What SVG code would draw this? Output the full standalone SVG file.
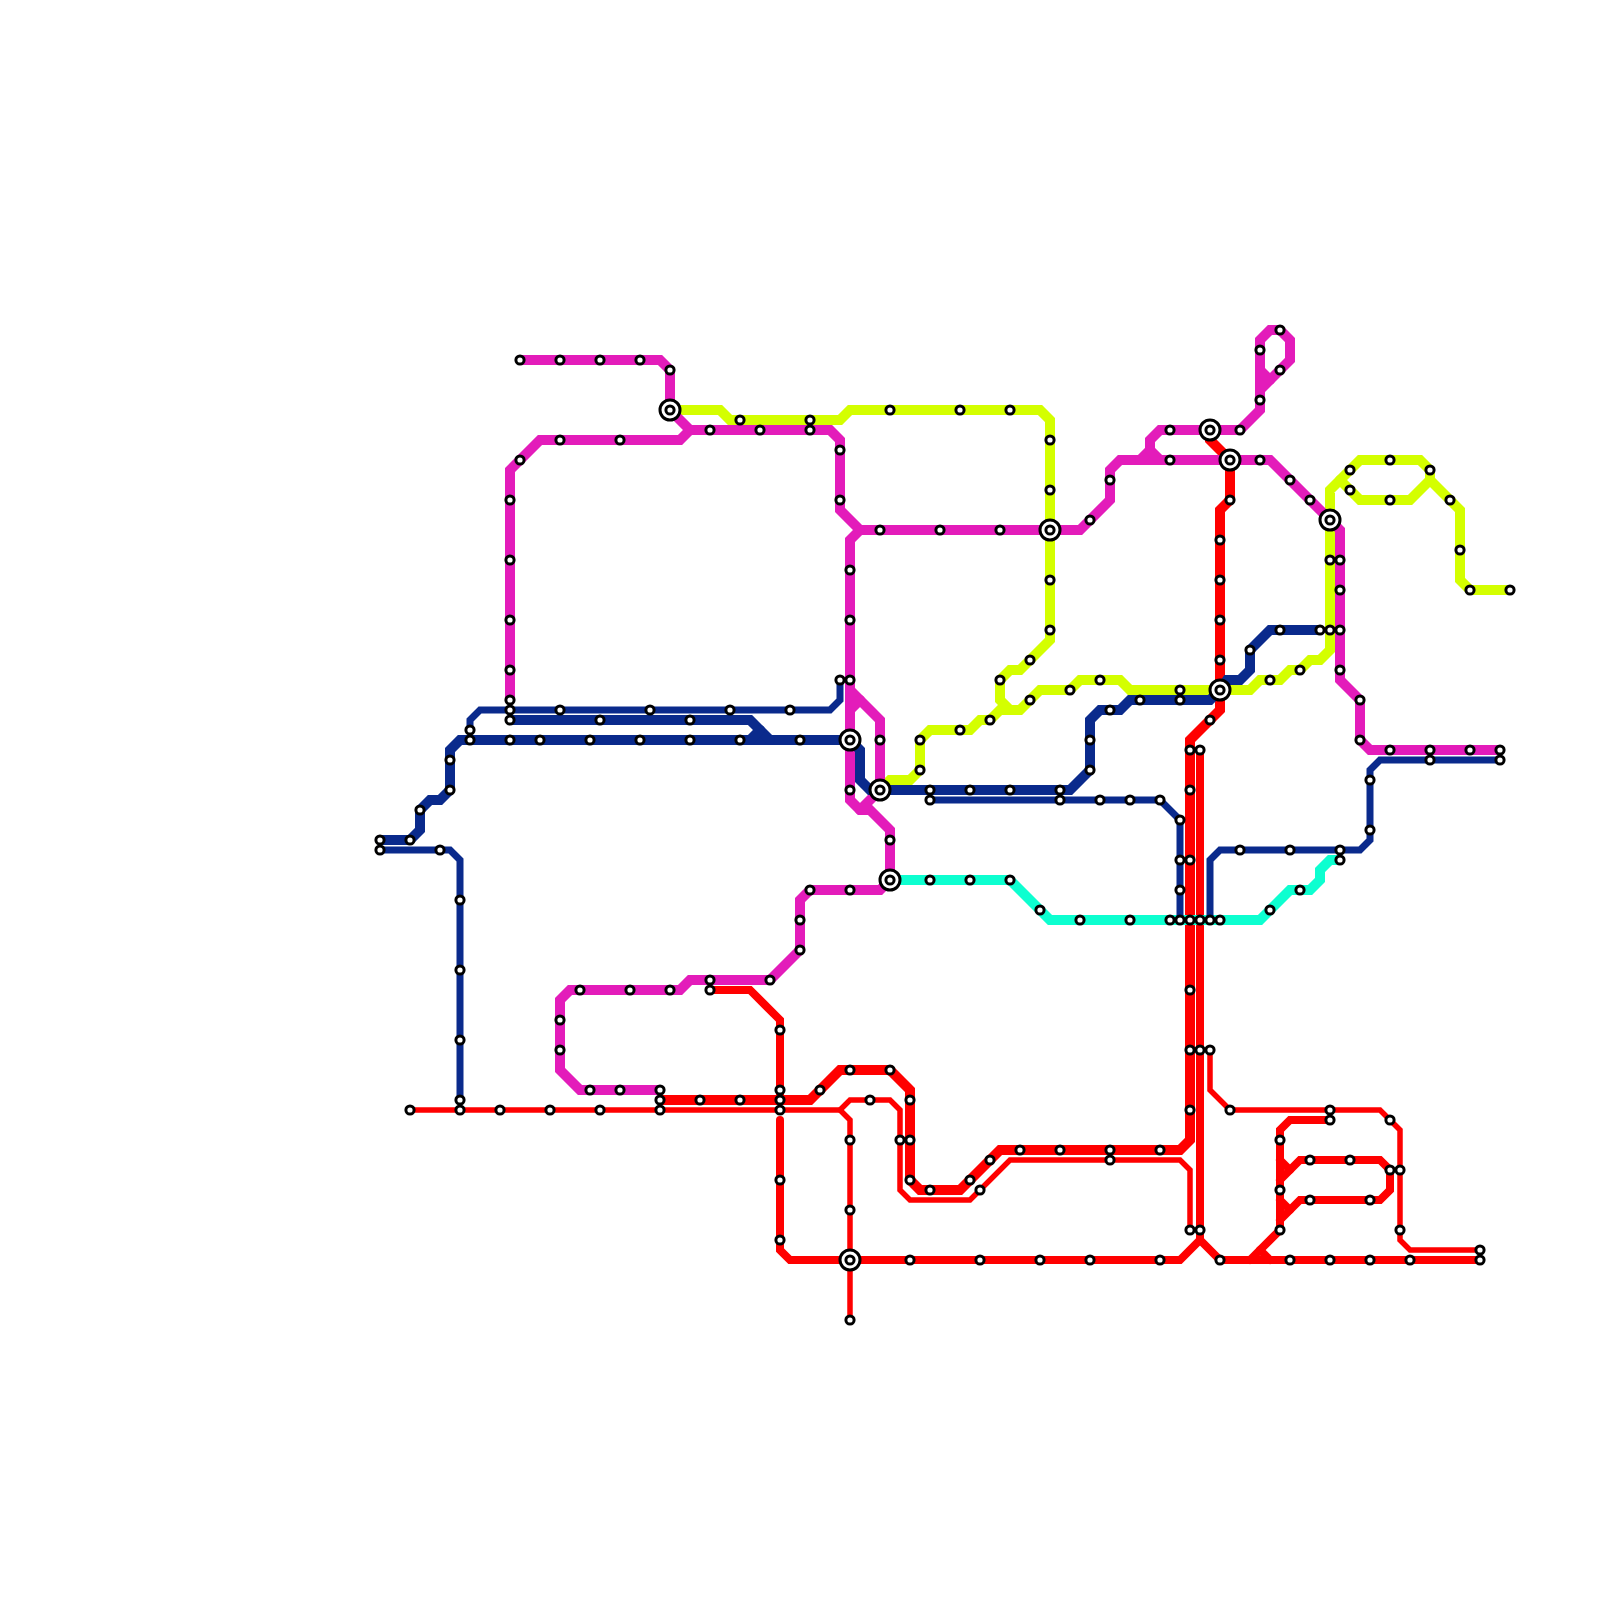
<svg xmlns="http://www.w3.org/2000/svg" width="1600" height="1600" viewBox="0 0 1600 1600">
<style>
polyline{fill:none;stroke-linejoin:miter;stroke-linecap:round}
.m{stroke:#e31cba;stroke-width:10}
.y{stroke:#d4ff00;stroke-width:10}
.t{stroke:#0dffd0;stroke-width:10}
.n{stroke:#0a2a8c;stroke-width:10}
.nt{stroke:#0a2a8c;stroke-width:7}
.r{stroke:#ff0000;stroke-width:10}
.rm{stroke:#ff0000;stroke-width:8}
.rs{stroke:#ff0000;stroke-width:5.5}
.s{fill:#fff;stroke:#000;stroke-width:3}
.h{fill:#fff;stroke:#000;stroke-width:3}
</style>
<rect width="1600" height="1600" fill="#fff"/>
<g id="connectors">
<polyline class="rs" points="410,1110 840,1110 850,1100 890,1100 900,1110 900,1190 910,1200 970,1200 1010,1160 1180,1160 1190,1170 1190,1230"/>
<polyline class="rs" points="840,1110 850,1120 850,1320"/>
<polyline class="rs" points="1210,1050 1210,1090 1230,1110 1380,1110 1400,1130 1400,1240 1410,1250 1480,1250"/>
<polyline class="r" points="660,1100 810,1100 840,1070 890,1070 910,1090 910,1180 920,1190 960,1190 1000,1150 1180,1150 1190,1140 1190,740 1220,710 1220,510 1230,500 1230,460 1210,440 1210,430"/>
<polyline class="rm" points="710,990 750,990 780,1020 780,1100"/>
<polyline class="rm" points="780,1120 780,1250 790,1260 1180,1260 1200,1240 1220,1260 1480,1260"/>
<polyline class="rm" points="1200,750 1200,1240"/>
<polyline class="rm" points="1330,1120 1290,1120 1280,1130 1280,1230 1250,1260"/>
<polyline class="rm" points="1280,1180 1300,1160 1380,1160 1390,1170 1390,1190 1380,1200 1300,1200 1280,1220"/>
<polyline class="rm" points="1280,1160 1290,1170"/>
<polyline class="rm" points="1280,1200 1290,1210"/>
<polyline class="rm" points="1260,1250 1270,1260"/>
<polyline class="t" points="890,880 1010,880 1050,920 1260,920 1290,890 1310,890 1320,880 1320,870 1330,860 1340,860"/>
<polyline class="y" points="670,410 720,410 730,420 840,420 850,410 1040,410 1050,420 1050,640 1020,670 1010,670 1000,680 1000,700 1010,710"/>
<polyline class="y" points="880,790 890,780 910,780 920,770 920,740 930,730 970,730 980,720 990,720 1000,710 1020,710 1040,690 1070,690 1080,680 1120,680 1130,690 1250,690 1260,680 1280,680 1290,670 1300,670 1310,660 1320,660 1330,650 1330,490 1360,460 1420,460 1430,470 1430,480 1460,510 1460,580 1470,590 1510,590"/>
<polyline class="y" points="1340,480 1360,500 1410,500 1430,480"/>
<polyline class="m" points="520,360 660,360 670,370 670,410 690,430 830,430 840,440 840,510 860,530 1080,530 1110,500 1110,470 1120,460 1270,460 1330,520 1340,530 1340,680 1360,700 1360,740 1370,750 1500,750"/>
<polyline class="m" points="690,430 680,440 540,440 510,470 510,700"/>
<polyline class="m" points="860,530 850,540 850,800 860,810 870,810 890,830 890,880 880,890 810,890 800,900 800,950 770,980 690,980 680,990 570,990 560,1000 560,1070 580,1090 660,1090"/>
<polyline class="m" points="850,690 880,720 880,790 860,810"/>
<polyline class="m" points="850,710 860,700"/>
<polyline class="m" points="1140,460 1150,450 1150,440 1160,430 1240,430 1260,410 1260,340 1270,330 1280,330 1290,340 1290,360 1260,390"/>
<polyline class="m" points="1150,450 1160,460"/>
<polyline class="m" points="1260,370 1270,380"/>
<polyline class="n" points="380,840 410,840 420,830 420,810 430,800 440,800 450,790 450,750 460,740 850,740 860,750 860,780 870,790 1070,790 1090,770 1090,720 1100,710 1120,710 1130,700 1210,700 1220,690 1227,680 1240,680 1250,670 1250,650 1270,630 1320,630"/>
<polyline class="n" points="510,720 750,720 770,740"/>
<polyline class="n" points="750,740 760,730"/>
<polyline class="nt" points="470,730 470,720 480,710 830,710 840,700 840,680"/>
<polyline class="nt" points="380,850 450,850 460,860 460,1100"/>
<polyline class="nt" points="930,800 1160,800 1180,820 1180,920"/>
<polyline class="nt" points="1210,920 1210,860 1220,850 1360,850 1370,840 1370,770 1380,760 1500,760"/>
</g>
<g id="hubs">
<g id="hub-670-410"><circle class="h" cx="670" cy="410" r="10"/><circle class="s" cx="670" cy="410" r="4.1"/></g>
<g id="hub-850-740"><circle class="h" cx="850" cy="740" r="10"/><circle class="s" cx="850" cy="740" r="4.1"/></g>
<g id="hub-880-790"><circle class="h" cx="880" cy="790" r="10"/><circle class="s" cx="880" cy="790" r="4.1"/></g>
<g id="hub-890-880"><circle class="h" cx="890" cy="880" r="10"/><circle class="s" cx="890" cy="880" r="4.1"/></g>
<g id="hub-850-1260"><circle class="h" cx="850" cy="1260" r="10"/><circle class="s" cx="850" cy="1260" r="4.1"/></g>
<g id="hub-1050-530"><circle class="h" cx="1050" cy="530" r="10"/><circle class="s" cx="1050" cy="530" r="4.1"/></g>
<g id="hub-1210-430"><circle class="h" cx="1210" cy="430" r="10"/><circle class="s" cx="1210" cy="430" r="4.1"/></g>
<g id="hub-1230-460"><circle class="h" cx="1230" cy="460" r="10"/><circle class="s" cx="1230" cy="460" r="4.1"/></g>
<g id="hub-1220-690"><circle class="h" cx="1220" cy="690" r="10"/><circle class="s" cx="1220" cy="690" r="4.1"/></g>
<g id="hub-1330-520"><circle class="h" cx="1330" cy="520" r="10"/><circle class="s" cx="1330" cy="520" r="4.1"/></g>
</g>
<g id="stations">
<g id="s1"><circle class="s" cx="520" cy="360" r="4.1"/></g>
<g id="s2"><circle class="s" cx="560" cy="360" r="4.1"/></g>
<g id="s3"><circle class="s" cx="600" cy="360" r="4.1"/></g>
<g id="s4"><circle class="s" cx="640" cy="360" r="4.1"/></g>
<g id="s5"><circle class="s" cx="670" cy="370" r="4.1"/></g>
<g id="s6"><circle class="s" cx="740" cy="420" r="4.1"/></g>
<g id="s7"><circle class="s" cx="810" cy="420" r="4.1"/></g>
<g id="s8"><circle class="s" cx="810" cy="430" r="4.1"/></g>
<g id="s9"><circle class="s" cx="710" cy="430" r="4.1"/></g>
<g id="s10"><circle class="s" cx="760" cy="430" r="4.1"/></g>
<g id="s11"><circle class="s" cx="560" cy="440" r="4.1"/></g>
<g id="s12"><circle class="s" cx="620" cy="440" r="4.1"/></g>
<g id="s13"><circle class="s" cx="520" cy="460" r="4.1"/></g>
<g id="s14"><circle class="s" cx="840" cy="450" r="4.1"/></g>
<g id="s15"><circle class="s" cx="840" cy="500" r="4.1"/></g>
<g id="s16"><circle class="s" cx="510" cy="500" r="4.1"/></g>
<g id="s17"><circle class="s" cx="510" cy="560" r="4.1"/></g>
<g id="s18"><circle class="s" cx="510" cy="620" r="4.1"/></g>
<g id="s19"><circle class="s" cx="510" cy="670" r="4.1"/></g>
<g id="s20"><circle class="s" cx="510" cy="700" r="4.1"/></g>
<g id="s21"><circle class="s" cx="510" cy="710" r="4.1"/></g>
<g id="s22"><circle class="s" cx="510" cy="720" r="4.1"/></g>
<g id="s23"><circle class="s" cx="510" cy="740" r="4.1"/></g>
<g id="s24"><circle class="s" cx="560" cy="710" r="4.1"/></g>
<g id="s25"><circle class="s" cx="650" cy="710" r="4.1"/></g>
<g id="s26"><circle class="s" cx="730" cy="710" r="4.1"/></g>
<g id="s27"><circle class="s" cx="790" cy="710" r="4.1"/></g>
<g id="s28"><circle class="s" cx="600" cy="720" r="4.1"/></g>
<g id="s29"><circle class="s" cx="690" cy="720" r="4.1"/></g>
<g id="s30"><circle class="s" cx="470" cy="730" r="4.1"/></g>
<g id="s31"><circle class="s" cx="470" cy="740" r="4.1"/></g>
<g id="s32"><circle class="s" cx="540" cy="740" r="4.1"/></g>
<g id="s33"><circle class="s" cx="590" cy="740" r="4.1"/></g>
<g id="s34"><circle class="s" cx="640" cy="740" r="4.1"/></g>
<g id="s35"><circle class="s" cx="690" cy="740" r="4.1"/></g>
<g id="s36"><circle class="s" cx="740" cy="740" r="4.1"/></g>
<g id="s37"><circle class="s" cx="800" cy="740" r="4.1"/></g>
<g id="s38"><circle class="s" cx="840" cy="680" r="4.1"/></g>
<g id="s39"><circle class="s" cx="850" cy="680" r="4.1"/></g>
<g id="s40"><circle class="s" cx="850" cy="570" r="4.1"/></g>
<g id="s41"><circle class="s" cx="850" cy="620" r="4.1"/></g>
<g id="s42"><circle class="s" cx="850" cy="790" r="4.1"/></g>
<g id="s43"><circle class="s" cx="450" cy="760" r="4.1"/></g>
<g id="s44"><circle class="s" cx="450" cy="790" r="4.1"/></g>
<g id="s45"><circle class="s" cx="420" cy="810" r="4.1"/></g>
<g id="s46"><circle class="s" cx="880" cy="530" r="4.1"/></g>
<g id="s47"><circle class="s" cx="880" cy="740" r="4.1"/></g>
<g id="s48"><circle class="s" cx="380" cy="840" r="4.1"/></g>
<g id="s49"><circle class="s" cx="410" cy="840" r="4.1"/></g>
<g id="s50"><circle class="s" cx="380" cy="850" r="4.1"/></g>
<g id="s51"><circle class="s" cx="440" cy="850" r="4.1"/></g>
<g id="s52"><circle class="s" cx="460" cy="900" r="4.1"/></g>
<g id="s53"><circle class="s" cx="460" cy="970" r="4.1"/></g>
<g id="s54"><circle class="s" cx="460" cy="1040" r="4.1"/></g>
<g id="s55"><circle class="s" cx="460" cy="1100" r="4.1"/></g>
<g id="s56"><circle class="s" cx="460" cy="1110" r="4.1"/></g>
<g id="s57"><circle class="s" cx="410" cy="1110" r="4.1"/></g>
<g id="s58"><circle class="s" cx="500" cy="1110" r="4.1"/></g>
<g id="s59"><circle class="s" cx="550" cy="1110" r="4.1"/></g>
<g id="s60"><circle class="s" cx="600" cy="1110" r="4.1"/></g>
<g id="s61"><circle class="s" cx="660" cy="1090" r="4.1"/></g>
<g id="s62"><circle class="s" cx="660" cy="1100" r="4.1"/></g>
<g id="s63"><circle class="s" cx="660" cy="1110" r="4.1"/></g>
<g id="s64"><circle class="s" cx="700" cy="1100" r="4.1"/></g>
<g id="s65"><circle class="s" cx="740" cy="1100" r="4.1"/></g>
<g id="s66"><circle class="s" cx="780" cy="1090" r="4.1"/></g>
<g id="s67"><circle class="s" cx="780" cy="1100" r="4.1"/></g>
<g id="s68"><circle class="s" cx="780" cy="1110" r="4.1"/></g>
<g id="s69"><circle class="s" cx="820" cy="1090" r="4.1"/></g>
<g id="s70"><circle class="s" cx="780" cy="1030" r="4.1"/></g>
<g id="s71"><circle class="s" cx="560" cy="1020" r="4.1"/></g>
<g id="s72"><circle class="s" cx="560" cy="1050" r="4.1"/></g>
<g id="s73"><circle class="s" cx="590" cy="1090" r="4.1"/></g>
<g id="s74"><circle class="s" cx="620" cy="1090" r="4.1"/></g>
<g id="s75"><circle class="s" cx="580" cy="990" r="4.1"/></g>
<g id="s76"><circle class="s" cx="630" cy="990" r="4.1"/></g>
<g id="s77"><circle class="s" cx="670" cy="990" r="4.1"/></g>
<g id="s78"><circle class="s" cx="710" cy="980" r="4.1"/></g>
<g id="s79"><circle class="s" cx="710" cy="990" r="4.1"/></g>
<g id="s80"><circle class="s" cx="770" cy="980" r="4.1"/></g>
<g id="s81"><circle class="s" cx="800" cy="950" r="4.1"/></g>
<g id="s82"><circle class="s" cx="800" cy="920" r="4.1"/></g>
<g id="s83"><circle class="s" cx="810" cy="890" r="4.1"/></g>
<g id="s84"><circle class="s" cx="850" cy="890" r="4.1"/></g>
<g id="s85"><circle class="s" cx="890" cy="840" r="4.1"/></g>
<g id="s86"><circle class="s" cx="850" cy="1070" r="4.1"/></g>
<g id="s87"><circle class="s" cx="890" cy="1070" r="4.1"/></g>
<g id="s88"><circle class="s" cx="870" cy="1100" r="4.1"/></g>
<g id="s89"><circle class="s" cx="910" cy="1100" r="4.1"/></g>
<g id="s90"><circle class="s" cx="900" cy="1140" r="4.1"/></g>
<g id="s91"><circle class="s" cx="910" cy="1140" r="4.1"/></g>
<g id="s92"><circle class="s" cx="850" cy="1140" r="4.1"/></g>
<g id="s93"><circle class="s" cx="780" cy="1180" r="4.1"/></g>
<g id="s94"><circle class="s" cx="910" cy="1180" r="4.1"/></g>
<g id="s95"><circle class="s" cx="930" cy="1190" r="4.1"/></g>
<g id="s96"><circle class="s" cx="970" cy="1180" r="4.1"/></g>
<g id="s97"><circle class="s" cx="990" cy="1160" r="4.1"/></g>
<g id="s98"><circle class="s" cx="980" cy="1190" r="4.1"/></g>
<g id="s99"><circle class="s" cx="1020" cy="1150" r="4.1"/></g>
<g id="s100"><circle class="s" cx="1060" cy="1150" r="4.1"/></g>
<g id="s101"><circle class="s" cx="1110" cy="1150" r="4.1"/></g>
<g id="s102"><circle class="s" cx="1110" cy="1160" r="4.1"/></g>
<g id="s103"><circle class="s" cx="1160" cy="1150" r="4.1"/></g>
<g id="s104"><circle class="s" cx="850" cy="1210" r="4.1"/></g>
<g id="s105"><circle class="s" cx="780" cy="1240" r="4.1"/></g>
<g id="s106"><circle class="s" cx="910" cy="1260" r="4.1"/></g>
<g id="s107"><circle class="s" cx="980" cy="1260" r="4.1"/></g>
<g id="s108"><circle class="s" cx="1040" cy="1260" r="4.1"/></g>
<g id="s109"><circle class="s" cx="1090" cy="1260" r="4.1"/></g>
<g id="s110"><circle class="s" cx="1160" cy="1260" r="4.1"/></g>
<g id="s111"><circle class="s" cx="850" cy="1320" r="4.1"/></g>
<g id="s112"><circle class="s" cx="890" cy="410" r="4.1"/></g>
<g id="s113"><circle class="s" cx="960" cy="410" r="4.1"/></g>
<g id="s114"><circle class="s" cx="1010" cy="410" r="4.1"/></g>
<g id="s115"><circle class="s" cx="1050" cy="440" r="4.1"/></g>
<g id="s116"><circle class="s" cx="1050" cy="490" r="4.1"/></g>
<g id="s117"><circle class="s" cx="1050" cy="580" r="4.1"/></g>
<g id="s118"><circle class="s" cx="1050" cy="630" r="4.1"/></g>
<g id="s119"><circle class="s" cx="1030" cy="660" r="4.1"/></g>
<g id="s120"><circle class="s" cx="1000" cy="680" r="4.1"/></g>
<g id="s121"><circle class="s" cx="1070" cy="690" r="4.1"/></g>
<g id="s122"><circle class="s" cx="1100" cy="680" r="4.1"/></g>
<g id="s123"><circle class="s" cx="1030" cy="700" r="4.1"/></g>
<g id="s124"><circle class="s" cx="990" cy="720" r="4.1"/></g>
<g id="s125"><circle class="s" cx="960" cy="730" r="4.1"/></g>
<g id="s126"><circle class="s" cx="920" cy="740" r="4.1"/></g>
<g id="s127"><circle class="s" cx="920" cy="770" r="4.1"/></g>
<g id="s128"><circle class="s" cx="940" cy="530" r="4.1"/></g>
<g id="s129"><circle class="s" cx="1000" cy="530" r="4.1"/></g>
<g id="s130"><circle class="s" cx="1090" cy="520" r="4.1"/></g>
<g id="s131"><circle class="s" cx="1110" cy="480" r="4.1"/></g>
<g id="s132"><circle class="s" cx="1170" cy="430" r="4.1"/></g>
<g id="s133"><circle class="s" cx="1170" cy="460" r="4.1"/></g>
<g id="s134"><circle class="s" cx="1230" cy="500" r="4.1"/></g>
<g id="s135"><circle class="s" cx="1220" cy="540" r="4.1"/></g>
<g id="s136"><circle class="s" cx="1220" cy="580" r="4.1"/></g>
<g id="s137"><circle class="s" cx="1220" cy="620" r="4.1"/></g>
<g id="s138"><circle class="s" cx="1220" cy="660" r="4.1"/></g>
<g id="s139"><circle class="s" cx="1180" cy="690" r="4.1"/></g>
<g id="s140"><circle class="s" cx="1180" cy="700" r="4.1"/></g>
<g id="s141"><circle class="s" cx="1140" cy="700" r="4.1"/></g>
<g id="s142"><circle class="s" cx="1110" cy="710" r="4.1"/></g>
<g id="s143"><circle class="s" cx="1090" cy="740" r="4.1"/></g>
<g id="s144"><circle class="s" cx="1090" cy="770" r="4.1"/></g>
<g id="s145"><circle class="s" cx="1060" cy="790" r="4.1"/></g>
<g id="s146"><circle class="s" cx="1060" cy="800" r="4.1"/></g>
<g id="s147"><circle class="s" cx="1010" cy="790" r="4.1"/></g>
<g id="s148"><circle class="s" cx="970" cy="790" r="4.1"/></g>
<g id="s149"><circle class="s" cx="930" cy="790" r="4.1"/></g>
<g id="s150"><circle class="s" cx="930" cy="800" r="4.1"/></g>
<g id="s151"><circle class="s" cx="1100" cy="800" r="4.1"/></g>
<g id="s152"><circle class="s" cx="1130" cy="800" r="4.1"/></g>
<g id="s153"><circle class="s" cx="1160" cy="800" r="4.1"/></g>
<g id="s154"><circle class="s" cx="1180" cy="820" r="4.1"/></g>
<g id="s155"><circle class="s" cx="1210" cy="720" r="4.1"/></g>
<g id="s156"><circle class="s" cx="1190" cy="750" r="4.1"/></g>
<g id="s157"><circle class="s" cx="1200" cy="750" r="4.1"/></g>
<g id="s158"><circle class="s" cx="1190" cy="790" r="4.1"/></g>
<g id="s159"><circle class="s" cx="1240" cy="430" r="4.1"/></g>
<g id="s160"><circle class="s" cx="1260" cy="400" r="4.1"/></g>
<g id="s161"><circle class="s" cx="1260" cy="350" r="4.1"/></g>
<g id="s162"><circle class="s" cx="1280" cy="330" r="4.1"/></g>
<g id="s163"><circle class="s" cx="1280" cy="370" r="4.1"/></g>
<g id="s164"><circle class="s" cx="1260" cy="460" r="4.1"/></g>
<g id="s165"><circle class="s" cx="1290" cy="480" r="4.1"/></g>
<g id="s166"><circle class="s" cx="1310" cy="500" r="4.1"/></g>
<g id="s167"><circle class="s" cx="1330" cy="560" r="4.1"/></g>
<g id="s168"><circle class="s" cx="1340" cy="560" r="4.1"/></g>
<g id="s169"><circle class="s" cx="1340" cy="590" r="4.1"/></g>
<g id="s170"><circle class="s" cx="1320" cy="630" r="4.1"/></g>
<g id="s171"><circle class="s" cx="1330" cy="630" r="4.1"/></g>
<g id="s172"><circle class="s" cx="1340" cy="630" r="4.1"/></g>
<g id="s173"><circle class="s" cx="1340" cy="670" r="4.1"/></g>
<g id="s174"><circle class="s" cx="1360" cy="700" r="4.1"/></g>
<g id="s175"><circle class="s" cx="1280" cy="630" r="4.1"/></g>
<g id="s176"><circle class="s" cx="1250" cy="650" r="4.1"/></g>
<g id="s177"><circle class="s" cx="1300" cy="670" r="4.1"/></g>
<g id="s178"><circle class="s" cx="1270" cy="680" r="4.1"/></g>
<g id="s179"><circle class="s" cx="1350" cy="470" r="4.1"/></g>
<g id="s180"><circle class="s" cx="1350" cy="490" r="4.1"/></g>
<g id="s181"><circle class="s" cx="1390" cy="460" r="4.1"/></g>
<g id="s182"><circle class="s" cx="1390" cy="500" r="4.1"/></g>
<g id="s183"><circle class="s" cx="1430" cy="470" r="4.1"/></g>
<g id="s184"><circle class="s" cx="1450" cy="500" r="4.1"/></g>
<g id="s185"><circle class="s" cx="1460" cy="550" r="4.1"/></g>
<g id="s186"><circle class="s" cx="1470" cy="590" r="4.1"/></g>
<g id="s187"><circle class="s" cx="1510" cy="590" r="4.1"/></g>
<g id="s188"><circle class="s" cx="1180" cy="860" r="4.1"/></g>
<g id="s189"><circle class="s" cx="1190" cy="860" r="4.1"/></g>
<g id="s190"><circle class="s" cx="1180" cy="890" r="4.1"/></g>
<g id="s191"><circle class="s" cx="1170" cy="920" r="4.1"/></g>
<g id="s192"><circle class="s" cx="1180" cy="920" r="4.1"/></g>
<g id="s193"><circle class="s" cx="1190" cy="920" r="4.1"/></g>
<g id="s194"><circle class="s" cx="1200" cy="920" r="4.1"/></g>
<g id="s195"><circle class="s" cx="1210" cy="920" r="4.1"/></g>
<g id="s196"><circle class="s" cx="1220" cy="920" r="4.1"/></g>
<g id="s197"><circle class="s" cx="1190" cy="990" r="4.1"/></g>
<g id="s198"><circle class="s" cx="1190" cy="1050" r="4.1"/></g>
<g id="s199"><circle class="s" cx="1200" cy="1050" r="4.1"/></g>
<g id="s200"><circle class="s" cx="1210" cy="1050" r="4.1"/></g>
<g id="s201"><circle class="s" cx="1240" cy="850" r="4.1"/></g>
<g id="s202"><circle class="s" cx="1290" cy="850" r="4.1"/></g>
<g id="s203"><circle class="s" cx="1340" cy="850" r="4.1"/></g>
<g id="s204"><circle class="s" cx="1340" cy="860" r="4.1"/></g>
<g id="s205"><circle class="s" cx="1300" cy="890" r="4.1"/></g>
<g id="s206"><circle class="s" cx="1270" cy="910" r="4.1"/></g>
<g id="s207"><circle class="s" cx="1370" cy="780" r="4.1"/></g>
<g id="s208"><circle class="s" cx="1370" cy="830" r="4.1"/></g>
<g id="s209"><circle class="s" cx="1360" cy="740" r="4.1"/></g>
<g id="s210"><circle class="s" cx="1390" cy="750" r="4.1"/></g>
<g id="s211"><circle class="s" cx="1430" cy="750" r="4.1"/></g>
<g id="s212"><circle class="s" cx="1430" cy="760" r="4.1"/></g>
<g id="s213"><circle class="s" cx="1470" cy="750" r="4.1"/></g>
<g id="s214"><circle class="s" cx="1500" cy="750" r="4.1"/></g>
<g id="s215"><circle class="s" cx="1500" cy="760" r="4.1"/></g>
<g id="s216"><circle class="s" cx="1230" cy="1110" r="4.1"/></g>
<g id="s217"><circle class="s" cx="1330" cy="1110" r="4.1"/></g>
<g id="s218"><circle class="s" cx="1330" cy="1120" r="4.1"/></g>
<g id="s219"><circle class="s" cx="1390" cy="1120" r="4.1"/></g>
<g id="s220"><circle class="s" cx="1400" cy="1170" r="4.1"/></g>
<g id="s221"><circle class="s" cx="1390" cy="1170" r="4.1"/></g>
<g id="s222"><circle class="s" cx="1400" cy="1230" r="4.1"/></g>
<g id="s223"><circle class="s" cx="1480" cy="1250" r="4.1"/></g>
<g id="s224"><circle class="s" cx="1480" cy="1260" r="4.1"/></g>
<g id="s225"><circle class="s" cx="1410" cy="1260" r="4.1"/></g>
<g id="s226"><circle class="s" cx="1370" cy="1260" r="4.1"/></g>
<g id="s227"><circle class="s" cx="1330" cy="1260" r="4.1"/></g>
<g id="s228"><circle class="s" cx="1290" cy="1260" r="4.1"/></g>
<g id="s229"><circle class="s" cx="1220" cy="1260" r="4.1"/></g>
<g id="s230"><circle class="s" cx="1280" cy="1230" r="4.1"/></g>
<g id="s231"><circle class="s" cx="1280" cy="1190" r="4.1"/></g>
<g id="s232"><circle class="s" cx="1280" cy="1140" r="4.1"/></g>
<g id="s233"><circle class="s" cx="1310" cy="1160" r="4.1"/></g>
<g id="s234"><circle class="s" cx="1350" cy="1160" r="4.1"/></g>
<g id="s235"><circle class="s" cx="1310" cy="1200" r="4.1"/></g>
<g id="s236"><circle class="s" cx="1370" cy="1200" r="4.1"/></g>
<g id="s237"><circle class="s" cx="1190" cy="1230" r="4.1"/></g>
<g id="s238"><circle class="s" cx="1200" cy="1230" r="4.1"/></g>
<g id="s239"><circle class="s" cx="1190" cy="1110" r="4.1"/></g>
<g id="s240"><circle class="s" cx="930" cy="880" r="4.1"/></g>
<g id="s241"><circle class="s" cx="970" cy="880" r="4.1"/></g>
<g id="s242"><circle class="s" cx="1010" cy="880" r="4.1"/></g>
<g id="s243"><circle class="s" cx="1040" cy="910" r="4.1"/></g>
<g id="s244"><circle class="s" cx="1080" cy="920" r="4.1"/></g>
<g id="s245"><circle class="s" cx="1130" cy="920" r="4.1"/></g>
</g>
</svg>
